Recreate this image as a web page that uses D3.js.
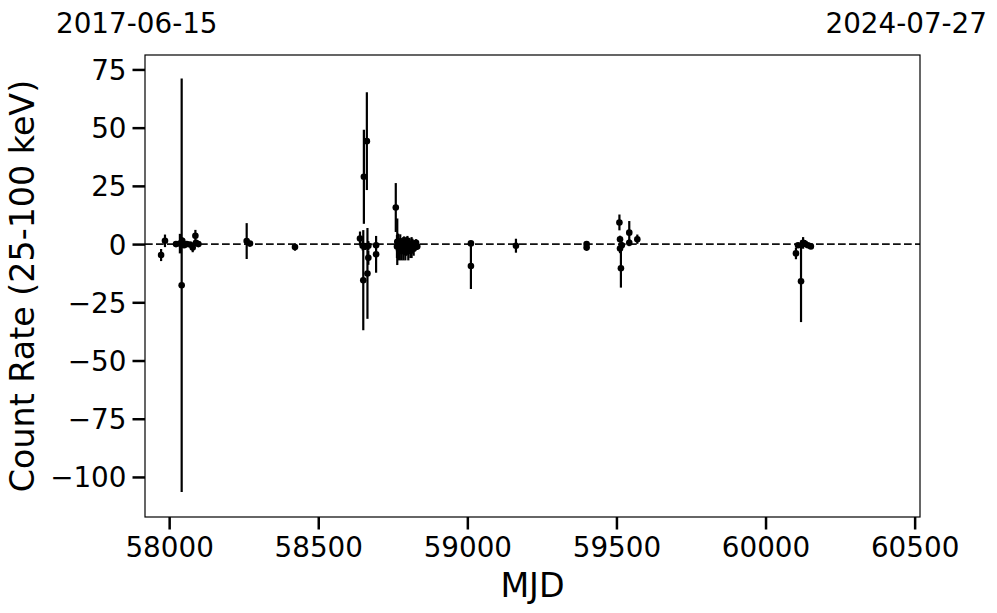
<!DOCTYPE html>
<html><head><meta charset="utf-8">
<script src="https://cdn.jsdelivr.net/npm/d3@7"></script>
<style>body{margin:0;background:#fff}svg{display:block;font-family:"DejaVu Sans",sans-serif}</style>
</head><body>
<svg id="c" width="997" height="613"></svg>
<script>
// Data: MJD, count rate (25-100 keV), 1-sigma error
const mjd = [57973,57986,58023,58036,58042,58044,58050,58059,58070,58079,58088,58090,58098,
  58260,58271,58422,
  58640,58649,58651,58653,58657,58663,58665,58668,58668,58694,58694,
  58760,58765,58764,58768,58771,58775,58778,58781,58785,58788,58792,58795,58799,58802,58806,58809,58813,58816,58820,58824,58828,58832,
  59012,59012,59163,59400,59400,
  59510,59512,59512,59515,59518,59543,59543,59570,
  60102,60109,60119,60126,60132,60142,60152];
const rate = [-4.7,1.4,0.0,0.2,-17.7,1.4,-0.5,0.0,-0.2,-1.5,3.6,0.5,0.0,
  1.3,0.2,-1.3,
  2.4,-0.7,-15.5,28.9,-1.0,44.2,-12.6,-5.9,-0.7,-4.4,-0.5,
  15.7,1.0,-1.0,0.5,-2.5,1.2,-3.0,-0.5,-2.0,0.8,-3.5,-1.0,1.5,-2.5,-0.5,-3.0,-1.5,0.3,-2.0,-0.8,0.6,-1.0,
  0.3,-9.4,-0.7,0.0,-1.5,
  9.3,2.1,-1.9,-10.4,-0.5,4.9,0.6,2.1,
  -4.0,-0.5,-16.0,0.5,0.2,-0.5,-1.0];
const err = [2.6,2.7,1.2,4.2,88.8,1.5,1.0,0.8,0.8,2.0,2.5,1.0,0.8,
  7.7,1.0,1.5,
  3.0,2.0,21.5,20.2,1.5,21.0,19.5,3.0,2.0,7.9,1.0,
  10.5,10.0,5.0,4.0,4.5,3.0,4.0,3.0,5.0,2.5,3.5,4.0,2.0,4.5,3.0,3.0,4.5,2.0,3.0,2.0,1.5,1.5,
  1.0,9.9,3.0,1.2,1.2,
  3.4,1.5,2.0,8.3,1.5,5.0,1.5,2.0,
  2.5,1.0,17.5,2.5,1.5,1.0,1.0];
const xTicks = [58000,58500,59000,59500,60000,60500];
const yTicks = [-100,-75,-50,-25,0,25,50,75];
const startLabel = "2017-06-15", endLabel = "2024-07-27";
const xLabel = "MJD", yLabel = "Count Rate (25-100 keV)";

const svg = d3.select("#c");
const L=145, R=920, T=55, B=517;
const x = d3.scaleLinear().domain([57919,60518]).range([L,R]);
const y = d3.scaleLinear().domain([-117.2,81.2]).range([B,T]);
const fmt = d => (d<0 ? "\u2212"+Math.abs(d) : ""+d);

// zero line
svg.append("line").attr("x1",L).attr("x2",R).attr("y1",y(0)).attr("y2",y(0))
  .attr("stroke","#111").attr("stroke-width",1.8).attr("stroke-dasharray","7.7,3.3");

const data = mjd.map((m,i)=>({m, r:rate[i], e:err[i]}));
const g = svg.append("g");
g.selectAll("line.eb").data(data).join("line").attr("class","eb")
  .attr("x1",d=>x(d.m)).attr("x2",d=>x(d.m))
  .attr("y1",d=>y(d.r-d.e)).attr("y2",d=>y(d.r+d.e))
  .attr("stroke","#000").attr("stroke-width",2.2);
g.selectAll("circle").data(data).join("circle")
  .attr("cx",d=>x(d.m)).attr("cy",d=>y(d.r)).attr("r",3.3).attr("fill","#000");

// axes
const xa = svg.append("g").attr("transform",`translate(0,${B})`)
  .call(d3.axisBottom(x).tickValues(xTicks).tickFormat(d=>d).tickSize(12.5).tickPadding(6));
const ya = svg.append("g").attr("transform",`translate(${L},0)`)
  .call(d3.axisLeft(y).tickValues(yTicks).tickFormat(fmt).tickSize(12.5).tickPadding(6));
[xa,ya].forEach(a=>{
  a.select(".domain").remove();
  a.selectAll(".tick line").attr("stroke","#000").attr("stroke-width",2.5);
  a.selectAll(".tick text").attr("fill","#000").style("font-size","27.8px").style("font-family","DejaVu Sans");
});
xa.selectAll(".tick text").attr("dy","0.785em");
ya.selectAll(".tick text").attr("dy","0.36em");

svg.append("rect").attr("x",L).attr("y",T).attr("width",R-L).attr("height",B-T)
  .attr("fill","none").attr("stroke","#000").attr("stroke-width",1.2);

svg.append("text").attr("x",L+(R-L)/2).attr("y",597).attr("text-anchor","middle")
  .style("font-size","33.3px").text(xLabel);
svg.append("text").attr("transform",`translate(34,${(T+B)/2}) rotate(-90)`).attr("text-anchor","middle")
  .style("font-size","33.3px").text(yLabel);
svg.append("text").attr("x",56).attr("y",32.7).style("font-size","27.8px").text(startLabel);
svg.append("text").attr("x",987).attr("y",32.7).attr("text-anchor","end").style("font-size","27.8px").text(endLabel);
</script>
</body></html>
